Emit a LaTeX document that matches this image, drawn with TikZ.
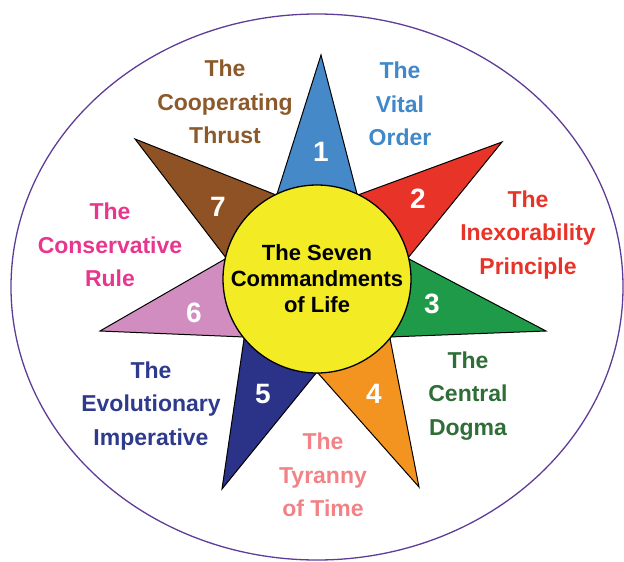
\documentclass[tikz,border=0pt]{standalone}
\usepackage{fontspec}
\setmainfont{Liberation Sans}
\usepackage{tikz}
\usetikzlibrary{calc}
\definecolor{rimpurple}{HTML}{5F3C98}
\definecolor{hubyellow}{HTML}{F3EB24}
\definecolor{blueray}{HTML}{4589C9}
\definecolor{redray}{HTML}{E83428}
\definecolor{greenray}{HTML}{1F9A49}
\definecolor{orangeray}{HTML}{F39421}
\definecolor{navyray}{HTML}{2B3388}
\definecolor{pinkray}{HTML}{D18DC0}
\definecolor{brownray}{HTML}{8E5224}
\definecolor{vitalblue}{HTML}{3F88C9}
\definecolor{inexred}{HTML}{E83428}
\definecolor{dogmagreen}{HTML}{2F6E37}
\definecolor{tyrannypink}{HTML}{F28285}
\definecolor{evolnavy}{HTML}{2E3A8B}
\definecolor{conspink}{HTML}{E8368F}
\definecolor{coopbrown}{HTML}{8C5A2A}
\tikzstyle{rim} = [draw=rimpurple, line width=1.3pt]
\tikzstyle{ray} = [draw=black, line width=1pt, line join=miter]
\tikzstyle{num} = [text=white, font=\fontsize{28}{28}\selectfont\bfseries]
\tikzstyle{lbl} = [align=center, font=\fontsize{23}{33.5}\selectfont\bfseries]
\tikzstyle{hub} = [circle, draw=black, line width=1.3pt, fill=hubyellow, minimum size=188pt, inner sep=0pt, align=center, font=\fontsize{22}{26}\selectfont\bfseries]

\begin{document}
\begin{tikzpicture}[x=1pt, y=-1pt]
	\useasboundingbox (0,0) rectangle (624,562);
	\draw[rim] (317,287) ellipse [x radius=306, y radius=273];

	\coordinate (o) at (317,279);
	\coordinate (t1) at (321,55);
	\coordinate (t2) at (502,142);
	\coordinate (t3) at (546,331);
	\coordinate (t4) at (419,487);
	\coordinate (t5) at (222,489);
	\coordinate (t6) at (100,331);
	\coordinate (t7) at (135,139);

	\draw[ray, fill=blueray]   (t1) -- ($(o)+(115.71:93pt)$) -- ($(o)+(64.29:93pt)$) -- cycle;
	\draw[ray, fill=redray]    (t2) -- ($(o)+(64.29:93pt)$) -- ($(o)+(12.86:93pt)$) -- cycle;
	\draw[ray, fill=greenray]  (t3) -- ($(o)+(12.86:93pt)$) -- ($(o)+(-38.57:93pt)$) -- cycle;
	\draw[ray, fill=orangeray] (t4) -- ($(o)+(-38.57:93pt)$) -- ($(o)+(-90:93pt)$) -- cycle;
	\draw[ray, fill=navyray]   (t5) -- ($(o)+(-90:93pt)$) -- ($(o)+(-141.43:93pt)$) -- cycle;
	\draw[ray, fill=pinkray]   (t6) -- ($(o)+(-141.43:93pt)$) -- ($(o)+(167.14:93pt)$) -- cycle;
	\draw[ray, fill=brownray]  (t7) -- ($(o)+(167.14:93pt)$) -- ($(o)+(115.71:93pt)$) -- cycle;

	\node (core) at (o) [hub] {The Seven\\Commandments\\of Life};

	\node (n1) at (321,152) [num] {1};
	\node (n2) at (418,199) [num] {2};
	\node (n3) at (432,304) [num] {3};
	\node (n4) at (374,394) [num] {4};
	\node (n5) at (263,394) [num] {5};
	\node (n6) at (194,313) [num] {6};
	\node (n7) at (218,207) [num] {7};

	\node (vital) at (400,104) [lbl, text=vitalblue] {The\\Vital\\Order};
	\node (inexorable) at (528,235) [lbl, text=inexred] {The\\Inexorability\\Principle};
	\node (dogma) at (468,396) [lbl, text=dogmagreen] {The\\Central\\Dogma};
	\node (tyranny) at (323,475) [lbl, text=tyrannypink] {The\\Tyranny\\of Time};
	\node (evolution) at (151,406) [lbl, text=evolnavy] {The\\Evolutionary\\Imperative};
	\node (conserve) at (110,245) [lbl, text=conspink] {The\\Conservative\\Rule};
	\node (coop) at (225,102) [lbl, text=coopbrown] {The\\Cooperating\\Thrust};
\end{tikzpicture}
\end{document}
